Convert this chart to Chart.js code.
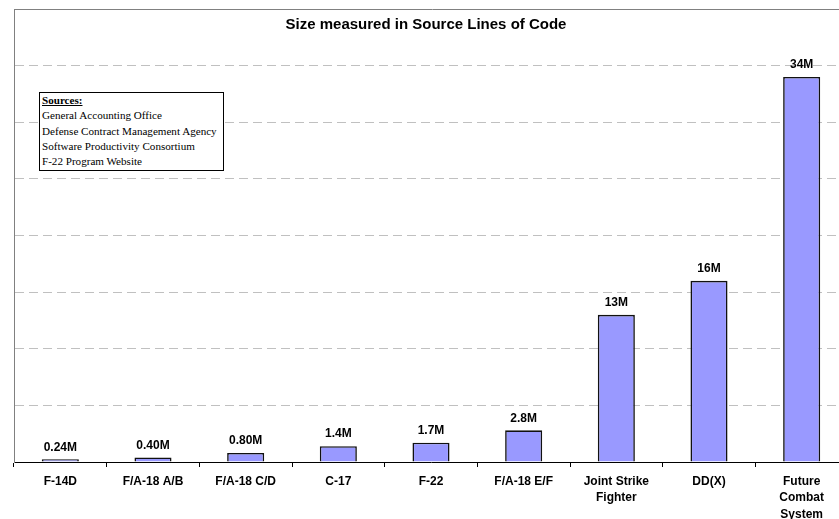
<!DOCTYPE html>
<html>
<head>
<meta charset="utf-8">
<script src="https://cdn.jsdelivr.net/npm/chart.js@4/dist/chart.umd.min.js"></script>
<style>
  html, body { margin: 0; padding: 0; background: #fff; }
  #wrap { position: relative; width: 839px; height: 519px; overflow: hidden; }
  #c { position: absolute; left: 0; top: 0; }
  #sources {
    position: absolute; left: 39px; top: 92px; width: 181px; height: 77px;
    border: 1px solid #000; background: #fff;
    font-family: "Liberation Serif", "Times New Roman", serif; font-size: 11.1px;
    line-height: 15.3px; color: #000; padding: 0 0 0 2px; box-sizing: content-box;
    white-space: nowrap;
  }
  #sources .h { font-weight: bold; text-decoration: underline; }
</style>
</head>
<body>
<div id="wrap">
  <canvas id="c" width="850" height="519"></canvas>
  <div id="sources">
    <div class="h">Sources:</div>
    <div>General Accounting Office</div>
    <div>Defense Contract Management Agency</div>
    <div>Software Productivity Consortium</div>
    <div>F-22 Program Website</div>
  </div>
</div>
<script>
const chartTitle = 'Size measured in Source Lines of Code';
const categories = [
  'F-14D', 'F/A-18 A/B', 'F/A-18 C/D', 'C-17', 'F-22', 'F/A-18 E/F',
  ['Joint Strike', 'Fighter'], 'DD(X)', ['Future', 'Combat', 'System']
];
const sizeMillions = [0.24, 0.40, 0.80, 1.4, 1.7, 2.8, 13, 16, 34];
const valueLabels = ['0.24M', '0.40M', '0.80M', '1.4M', '1.7M', '2.8M', '13M', '16M', '34M'];
const yMin = 0, yMax = 40, yStep = 5;

const FONT = '"Liberation Sans", Arial, sans-serif';

const decorations = {
  id: 'decorations',
  beforeDatasetsDraw(chart) {
    const {ctx, chartArea} = chart;
    ctx.save();
    ctx.strokeStyle = '#808080';
    ctx.lineWidth = 1;
    ctx.beginPath();
    ctx.moveTo(chartArea.left, chartArea.top + 0.5);
    ctx.lineTo(chartArea.right + 10, chartArea.top + 0.5);
    ctx.stroke();
    ctx.fillStyle = '#000';
    ctx.font = 'bold 15px ' + FONT;
    ctx.textAlign = 'center';
    ctx.textBaseline = 'middle';
    ctx.fillText(chartTitle, 426, 25);
    ctx.restore();
  },
  afterDatasetsDraw(chart) {
    const {ctx} = chart;
    const meta = chart.getDatasetMeta(0);
    ctx.save();
    ctx.fillStyle = '#000';
    ctx.font = 'bold 12px ' + FONT;
    ctx.textAlign = 'center';
    ctx.textBaseline = 'middle';
    meta.data.forEach((bar, i) => {
      ctx.fillText(valueLabels[i], bar.x, bar.y - 12);
    });
    ctx.restore();
  }
};

new Chart(document.getElementById('c'), {
  type: 'bar',
  data: {
    labels: categories,
    datasets: [{
      data: sizeMillions,
      backgroundColor: '#9999ff',
      borderColor: '#111111',
      borderWidth: 1.6,
      barPercentage: 0.4,
      categoryPercentage: 1.0
    }]
  },
  options: {
    responsive: false,
    devicePixelRatio: 1,
    animation: false,
    layout: { padding: { left: 14, top: 9, right: 2, bottom: 0 } },
    plugins: { legend: { display: false }, title: { display: false }, tooltip: { enabled: false } },
    scales: {
      x: {
        afterFit(scale) { scale.height = 57; },
        grid: {
          display: true, offset: true, drawOnChartArea: false, drawTicks: true,
          tickLength: 5, color: '#000', lineWidth: 1
        },
        border: { display: true, color: '#000', width: 1 },
        ticks: {
          font: { family: FONT, size: 12, weight: 'bold', lineHeight: 1.38 },
          color: '#000', padding: 6, maxRotation: 0, autoSkip: false
        }
      },
      y: {
        min: yMin, max: yMax,
        afterFit(scale) { scale.width = 0; },
        ticks: { display: false, stepSize: yStep },
        grid: {
          drawTicks: false, tickLength: 0,
          color: (c) => (c.tick && (c.tick.value === yMin || c.tick.value === yMax)) ? 'rgba(0,0,0,0)' : '#c0c0c0',
          lineWidth: 1
        },
        border: { display: true, color: '#808080', width: 1, dash: [9, 5] }
      }
    }
  },
  plugins: [decorations]
});
</script>
</body>
</html>
